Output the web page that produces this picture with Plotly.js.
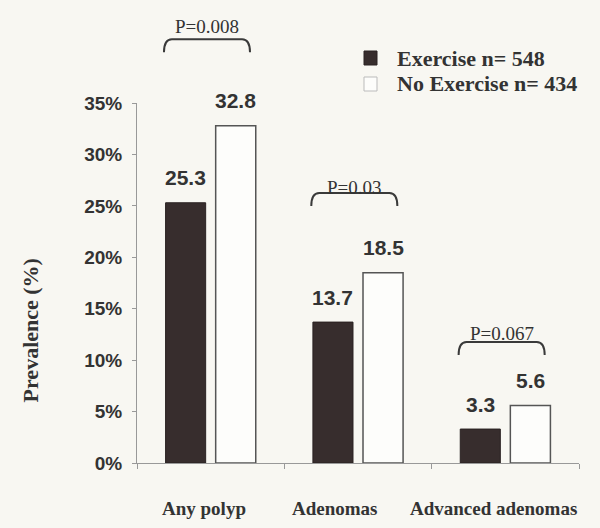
<!DOCTYPE html>
<html>
<head>
<meta charset="utf-8">
<script src="https://cdn.plot.ly/plotly-3.0.1.min.js"></script>
<style>html,body{margin:0;padding:0;background:#f8f7f2;}#chart{width:600px;height:528px;}</style>
</head>
<body>
<div id="chart"></div>
<script>
const categories = ['Any polyp', 'Adenomas', 'Advanced adenomas'];
const exercise = [25.3, 13.7, 3.3];
const noExercise = [32.8, 18.5, 5.6];
const seriesNames = ['Exercise n= 548', 'No Exercise n= 434'];
const pValues = ['P=0.008', 'P=0.03', 'P=0.067'];
const yTickVals = [0, 5, 10, 15, 20, 25, 30, 35];
const yTickText = ['0%', '5%', '10%', '15%', '20%', '25%', '30%', '35%'];

// layout-only constants
const Y_MAX = 35;
const BARGAP = 0.32;
const W = 600, H = 528, ML = 137, MR = 21, MT = 103, MB = 65;
const PW = W - ML - MR, PH = H - MT - MB;
const bracketTop = [41.2, 26.25, 11.76];
const pTextY = [42.4, 26.8, 12.6];
const labelShift = [-7, -23, -12];
const textColor = '#333';
const serif = 'Liberation Serif, Times New Roman, serif';
const sans = 'Liberation Sans, Arial, sans-serif';
const barStyles = [
  {color: '#372d2d', line: {color: '#2a2222', width: 1}},
  {color: '#fdfdfb', line: {color: '#555', width: 1.5}}
];

const xPaper = v => (v + 0.5) / categories.length;
const yPaper = v => v / Y_MAX;
const pxX = px => (px - ML) / PW;
const pxY = py => (H - MB - py) / PH;

const traces = [
  {type: 'bar', name: seriesNames[0], x: categories, y: exercise, marker: barStyles[0], hoverinfo: 'skip'},
  {type: 'bar', name: seriesNames[1], x: categories, y: noExercise, marker: barStyles[1], hoverinfo: 'skip'}
];

const annotations = [];
const shapes = [];
const slotOff = (1 - BARGAP) / 4;
categories.forEach((c, i) => {
  annotations.push({x: i - slotOff, y: exercise[i], xref: 'x', yref: 'y', text: exercise[i].toFixed(1),
    showarrow: false, yanchor: 'middle', yshift: 25,
    font: {family: sans, size: 21, weight: 'bold', color: textColor}});
  annotations.push({x: i + slotOff, y: noExercise[i], xref: 'x', yref: 'y', text: noExercise[i].toFixed(1),
    showarrow: false, yanchor: 'middle', yshift: 25,
    font: {family: sans, size: 21, weight: 'bold', color: textColor}});
  // category label
  annotations.push({x: i, y: -0.126, xref: 'x', yref: 'paper', text: c, showarrow: false,
    xshift: labelShift[i], yanchor: 'middle',
    font: {family: serif, size: 19, weight: 'bold', color: textColor}});
  // p-value bracket
  const cx = i - 0.025, hw = 0.292;
  const x0 = xPaper(cx - hw), x1 = xPaper(cx + hw);
  const yt = yPaper(bracketTop[i]), yb = yPaper(bracketTop[i] - 1.27);
  const r = 0.018;
  shapes.push({type: 'path', xref: 'paper', yref: 'paper',
    path: `M${x0},${yb} Q${x0},${yt} ${x0 + r},${yt} L${x1 - r},${yt} Q${x1},${yt} ${x1},${yb}`,
    line: {color: '#3a3a3a', width: 2}});
  annotations.push({x: xPaper(cx), y: yPaper(pTextY[i]), xref: 'paper', yref: 'paper', text: pValues[i],
    showarrow: false, xanchor: 'center', yanchor: 'middle',
    font: {family: serif, size: 19, color: textColor}});
});
annotations.push({x: -0.24, y: 0.368, xref: 'paper', yref: 'paper', text: 'Prevalence (%)',
  textangle: -90, showarrow: false, xanchor: 'center', yanchor: 'middle',
  font: {family: serif, size: 22, weight: 'bold', color: textColor}});

// legend drawn by hand
const legendRows = [58, 84];
seriesNames.forEach((name, k) => {
  const cy = legendRows[k];
  shapes.push({type: 'rect', xref: 'paper', yref: 'paper',
    x0: pxX(364), x1: pxX(377), y0: pxY(cy + 7), y1: pxY(cy - 7),
    fillcolor: barStyles[k].color, line: {color: k === 0 ? '#2a2222' : '#bbb', width: 1}});
  annotations.push({x: pxX(395), y: pxY(cy), xref: 'paper', yref: 'paper', text: name,
    showarrow: false, xanchor: 'left', yanchor: 'middle',
    font: {family: serif, size: 22, weight: 'bold', color: textColor}});
});

const layout = {
  width: W, height: H,
  margin: {l: ML, r: MR, t: MT, b: MB},
  paper_bgcolor: '#f8f7f2', plot_bgcolor: '#f8f7f2',
  barmode: 'group', bargap: BARGAP, bargroupgap: 0.2,
  showlegend: false,
  xaxis: {type: 'category', range: [-0.5, 2.5], showline: true, linecolor: '#999', linewidth: 1,
    ticks: 'outside', tickson: 'boundaries', ticklen: 5, tickcolor: '#999',
    showticklabels: false, showgrid: false, zeroline: false, fixedrange: true},
  yaxis: {range: [0, Y_MAX], tickvals: yTickVals, ticktext: yTickText, showline: true,
    linecolor: '#999', linewidth: 1, ticks: 'outside', ticklen: 4, tickcolor: '#999',
    showgrid: false, zeroline: false, ticklabelstandoff: 6,
    tickfont: {family: sans, size: 19, weight: 'bold', color: textColor}},
  annotations: annotations,
  shapes: shapes
};

Plotly.newPlot('chart', traces, layout, {displayModeBar: false, staticPlot: true});
</script>
</body>
</html>
